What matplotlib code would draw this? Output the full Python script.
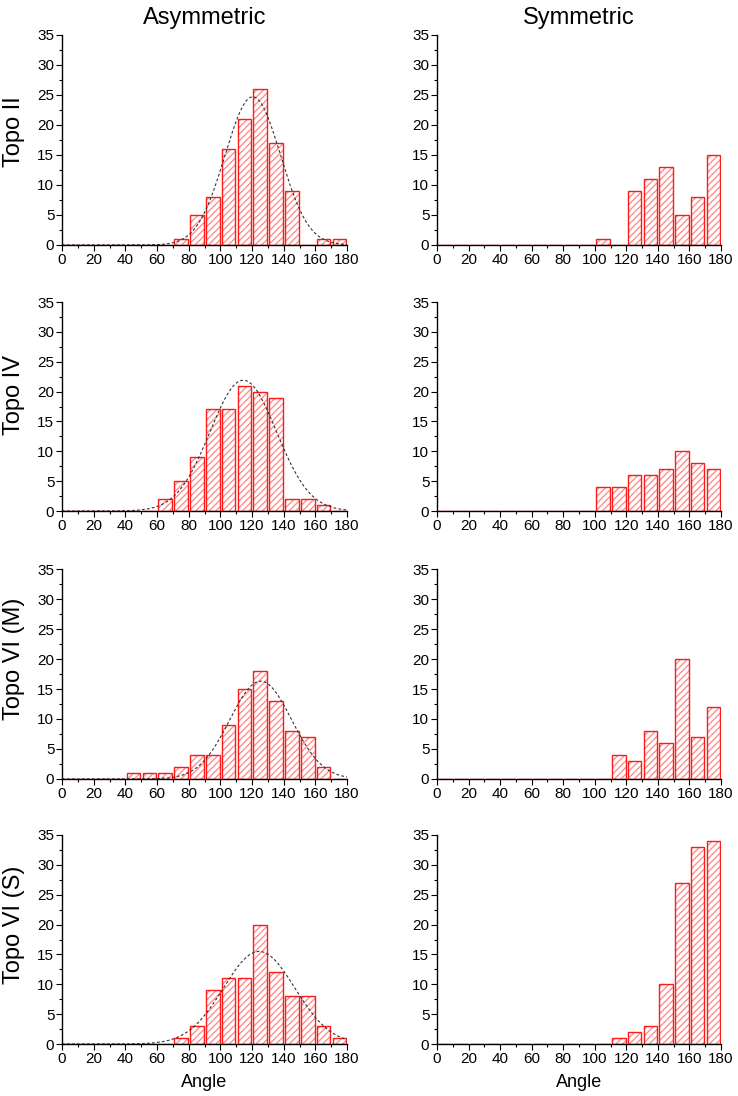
import numpy as np
import matplotlib
matplotlib.use("Agg")
import matplotlib.pyplot as plt
from matplotlib.ticker import MultipleLocator

plt.rcParams['font.family'] = ['Liberation Sans', 'DejaVu Sans']

# bin left edges (10 degree bins) and counts per panel
bins = np.arange(0, 180, 10)

topo2_asym = [0, 0, 0, 0, 0, 0, 0, 1, 5, 8, 16, 21, 26, 17, 9, 0, 1, 1]
topo2_sym = [0, 0, 0, 0, 0, 0, 0, 0, 0, 0, 1, 0, 9, 11, 13, 5, 8, 15]
topo4_asym = [0, 0, 0, 0, 0, 0, 2, 5, 9, 17, 17, 21, 20, 19, 2, 2, 1, 0]
topo4_sym = [0, 0, 0, 0, 0, 0, 0, 0, 0, 0, 4, 4, 6, 6, 7, 10, 8, 7]
topo6m_asym = [0, 0, 0, 0, 1, 1, 1, 2, 4, 4, 9, 15, 18, 13, 8, 7, 2, 0]
topo6m_sym = [0, 0, 0, 0, 0, 0, 0, 0, 0, 0, 0, 4, 3, 8, 6, 20, 7, 12]
topo6s_asym = [0, 0, 0, 0, 0, 0, 0, 1, 3, 9, 11, 11, 20, 12, 8, 8, 3, 1]
topo6s_sym = [0, 0, 0, 0, 0, 0, 0, 0, 0, 0, 0, 1, 2, 3, 10, 27, 33, 34]

# gaussian fit (center, amplitude, sigma) for the asymmetric panels
fit_center = [120.5, 114.5, 125.5, 124.5]
fit_amp = [24.7, 21.9, 16.3, 15.5]
fit_sigma = [17.5, 21.0, 19.5, 22.5]

row_labels = ['Topo II', 'Topo IV', 'Topo VI (M)', 'Topo VI (S)']
col_titles = ['Asymmetric', 'Symmetric']
counts = [[topo2_asym, topo2_sym], [topo4_asym, topo4_sym],
          [topo6m_asym, topo6m_sym], [topo6s_asym, topo6s_sym]]

W, H = 738, 1096
fig = plt.figure(figsize=(W / 100, H / 100), dpi=100)

col_x = [(62, 347), (437, 721)]
row_y = [(35, 245), (302, 511), (569, 779), (835, 1044)]
label_y = [132, 395, 659, 925]

xs = np.linspace(0, 180, 400)

for r in range(4):
    for c in range(2):
        x0, x1 = col_x[c]
        y0, y1 = row_y[r]
        ax = fig.add_axes([x0 / W, 1 - y1 / H, (x1 - x0) / W, (y1 - y0) / H])
        vals = np.array(counts[r][c])
        centers = bins + 5.2
        # hatch fill (light red) then red outline on top
        ax.bar(centers, vals, width=8.6, color='none', edgecolor='#ff9090',
               hatch='/////', linewidth=0)
        ax.bar(centers, vals, width=8.6, color='none', edgecolor='#ff1a1a',
               linewidth=1.0)
        if c == 0:
            g = fit_amp[r] * np.exp(-(xs - fit_center[r]) ** 2 / (2 * fit_sigma[r] ** 2))
            ax.plot(xs, g, color='#333333', lw=0.8, ls=(0, (2.5, 2)))
        ax.set_xlim(0, 180)
        ax.set_ylim(0, 35)
        ax.xaxis.set_major_locator(MultipleLocator(20))
        ax.xaxis.set_minor_locator(MultipleLocator(10))
        ax.yaxis.set_major_locator(MultipleLocator(5))
        ax.yaxis.set_minor_locator(MultipleLocator(2.5))
        for s in ['top', 'right']:
            ax.spines[s].set_visible(False)
        for s in ['left', 'bottom']:
            ax.spines[s].set_linewidth(1.0)
        ax.tick_params(which='major', direction='out', length=4, width=0.8,
                       labelsize=11, pad=1.5)
        ax.tick_params(which='minor', direction='out', length=2.5, width=0.8)
        if r == 0:
            ax.set_title(col_titles[c], fontsize=17, pad=8)
        if r == 3:
            ax.set_xlabel('Angle', fontsize=13, labelpad=6)
    fig.text(14 / W, 1 - label_y[r] / H, row_labels[r], rotation=90,
             ha='center', va='center', fontsize=17)

fig.savefig('out.png', dpi=100)
